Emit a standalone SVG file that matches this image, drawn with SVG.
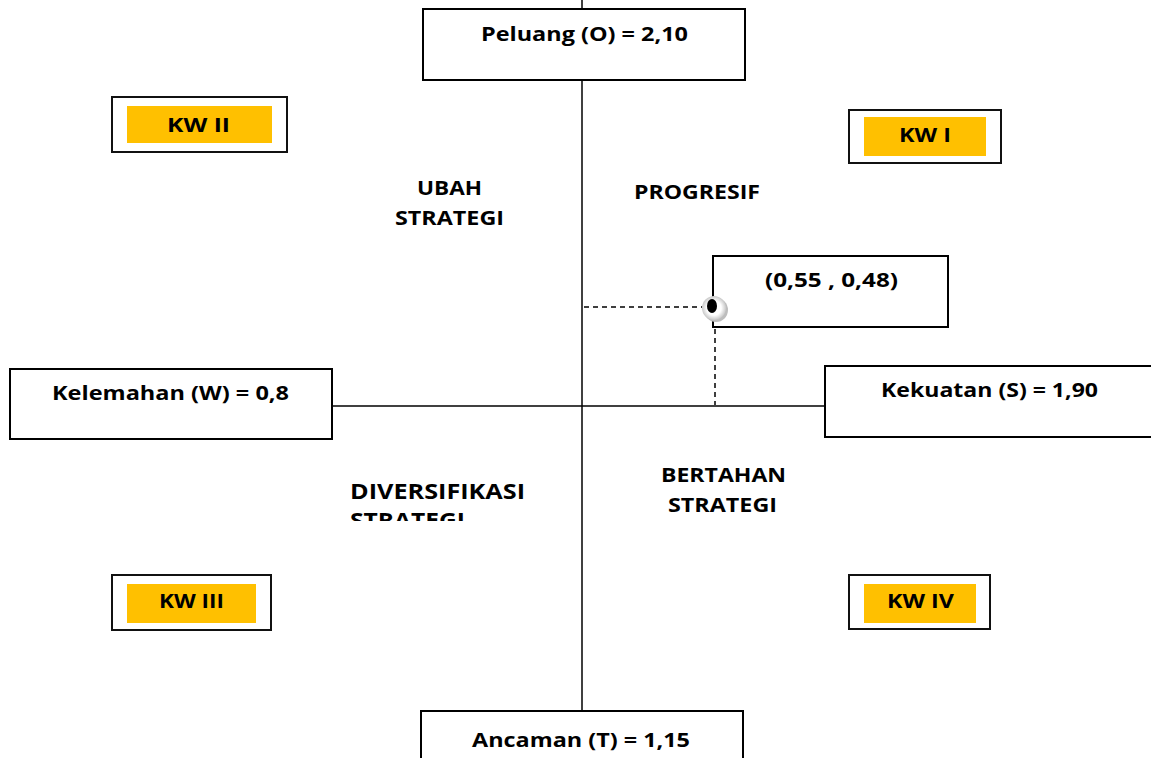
<svg xmlns="http://www.w3.org/2000/svg" width="1151" height="758" viewBox="0 0 1151 758">
<style>
.box{fill:#fff;stroke:#000;stroke-width:2}
.kw{fill:#fff;stroke:#111;stroke-width:2}
.yel{fill:#ffc000}
.t{font-family:"Open Sans","DejaVu Sans",sans-serif;font-weight:bold;font-size:20px;fill:#000;text-anchor:middle}
.big{font-size:22px}
.line{stroke:#000;stroke-width:1.5;fill:none}
.dash{stroke:#000;stroke-width:1.5;stroke-dasharray:5,4;fill:none}
</style>
<defs>
<clipPath id="clipDiv"><rect x="300" y="460" width="260" height="61"/></clipPath>
<radialGradient id="ring" cx="0.5" cy="0.5" r="0.5">
<stop offset="0.6" stop-color="#ffffff"/>
<stop offset="1" stop-color="#c8c8c8"/>
</radialGradient>
</defs>
<rect width="1151" height="758" fill="#fff"/>
<g id="connectors">
<line class="line" x1="582" y1="0" x2="582" y2="711"/>
<line class="line" x1="332" y1="406" x2="825" y2="406"/>
<line class="dash" x1="584" y1="307" x2="702" y2="307"/>
<line class="dash" x1="715" y1="320" x2="715" y2="405"/>
</g>
<g id="peluang">
<rect class="box" x="423" y="9" width="322" height="71"/>
<text class="t" x="584.5" y="41" textLength="207" lengthAdjust="spacingAndGlyphs">Peluang (O) = 2,10</text>
</g>
<g id="ancaman">
<rect class="box" x="421" y="711" width="322" height="60"/>
<text class="t" x="581" y="747" textLength="218" lengthAdjust="spacingAndGlyphs">Ancaman (T) = 1,15</text>
</g>
<g id="kelemahan">
<rect class="box" x="10" y="369" width="322" height="70"/>
<text class="t" x="170.5" y="400" textLength="237" lengthAdjust="spacingAndGlyphs">Kelemahan (W) = 0,8</text>
</g>
<g id="kekuatan">
<rect class="box" x="825" y="366" width="340" height="71"/>
<text class="t" x="989.5" y="397" textLength="217" lengthAdjust="spacingAndGlyphs">Kekuatan (S) = 1,90</text>
</g>
<g id="koordinat">
<rect class="box" x="713" y="256" width="235" height="71"/>
<text class="t" x="831.5" y="287" textLength="133" lengthAdjust="spacingAndGlyphs">(0,55 , 0,48)</text>
</g>
<g id="titik">
<circle cx="716" cy="310" r="12" fill="#bdbdbd"/>
<circle cx="714" cy="308" r="12" fill="url(#ring)"/>
<ellipse cx="712" cy="306" rx="5" ry="7" fill="#000"/>
</g>
<g id="kw2">
<rect class="kw" x="112" y="97" width="175" height="55"/>
<rect class="yel" x="127" y="106" width="145" height="37"/>
<text class="t" x="198.5" y="132" textLength="63" lengthAdjust="spacingAndGlyphs">KW II</text>
</g>
<g id="kw1">
<rect class="kw" x="849" y="110" width="152" height="53"/>
<rect class="yel" x="864" y="117" width="122" height="39"/>
<text class="t" x="925" y="142" textLength="52" lengthAdjust="spacingAndGlyphs">KW I</text>
</g>
<g id="kw3">
<rect class="kw" x="112" y="575" width="159" height="55"/>
<rect class="yel" x="127" y="584" width="129" height="39"/>
<text class="t" x="191.5" y="608" textLength="65" lengthAdjust="spacingAndGlyphs">KW III</text>
</g>
<g id="kw4">
<rect class="kw" x="849" y="575" width="141" height="54"/>
<rect class="yel" x="864" y="584" width="112" height="39"/>
<text class="t" x="920.5" y="608" textLength="67" lengthAdjust="spacingAndGlyphs">KW IV</text>
</g>
<g id="ubah">
<text class="t" x="449.5" y="195" textLength="65" lengthAdjust="spacingAndGlyphs">UBAH</text>
<text class="t" x="449.5" y="225" textLength="109" lengthAdjust="spacingAndGlyphs">STRATEGI</text>
</g>
<g id="progresif">
<text class="t" x="697" y="199" textLength="126" lengthAdjust="spacingAndGlyphs">PROGRESIF</text>
</g>
<g id="bertahan">
<text class="t" x="723.5" y="482" textLength="125" lengthAdjust="spacingAndGlyphs">BERTAHAN</text>
<text class="t" x="722.5" y="512" textLength="109" lengthAdjust="spacingAndGlyphs">STRATEGI</text>
</g>
<g id="diversifikasi" clip-path="url(#clipDiv)">
<text class="t big" x="437.5" y="499" textLength="175" lengthAdjust="spacingAndGlyphs">DIVERSIFIKASI</text>
<text class="t big" x="407.5" y="528" textLength="115" lengthAdjust="spacingAndGlyphs">STRATEGI</text>
</g>
</svg>
